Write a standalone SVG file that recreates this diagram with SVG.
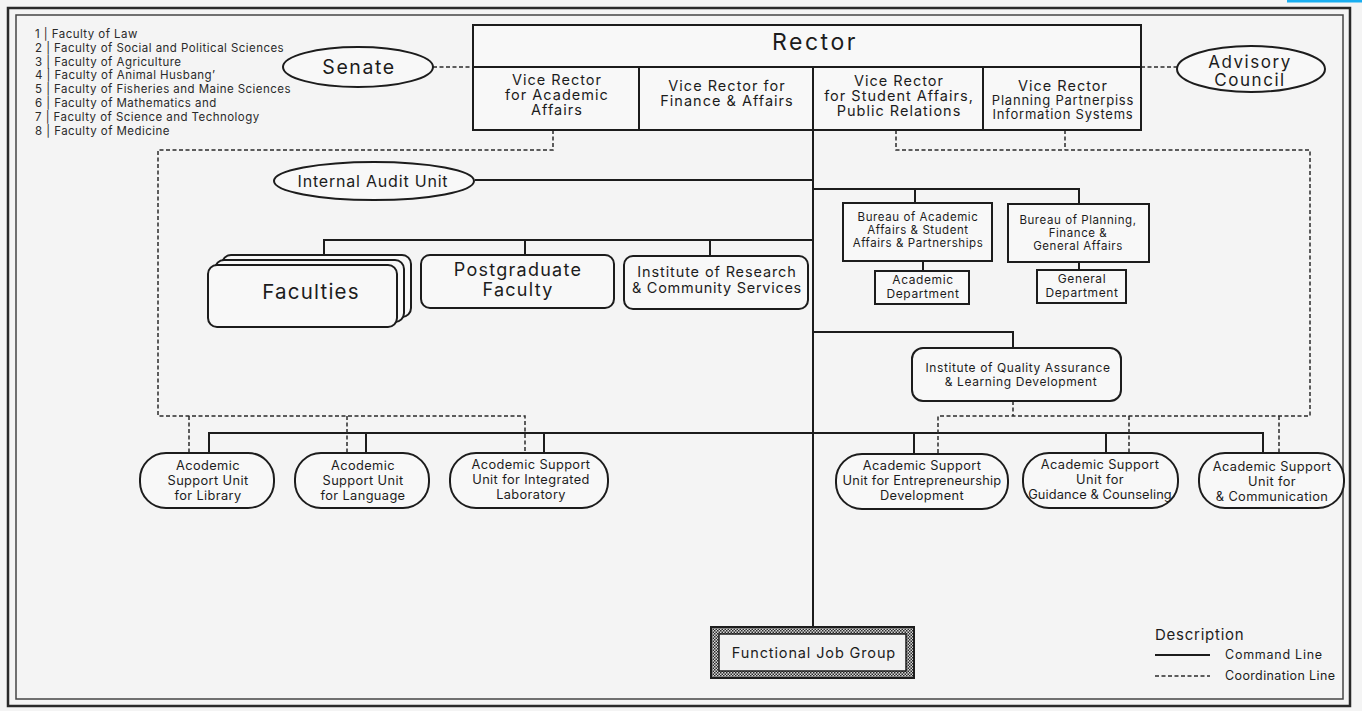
<svg xmlns="http://www.w3.org/2000/svg" width="1362" height="711" viewBox="0 0 1362 711">
<style>
text{font-family:Inter,"Liberation Sans",sans-serif;fill:#1c1c1c;text-anchor:middle;letter-spacing:0.06em}
.leg{text-anchor:start;font-size:11.5px;fill:#2a2a2a;letter-spacing:0.45px}
.st{text-anchor:start}
.box{fill:#f8f8f8;stroke:#1c1c1c;stroke-width:2}
.sol{fill:none;stroke:#1c1c1c;stroke-width:2}
.dash{fill:none;stroke:#2a2a2a;stroke-width:1.5;stroke-dasharray:4 2.5}
.vr{font-size:14.5px;letter-spacing:0.07em}
.vs{font-size:13px;letter-spacing:0.06em}
.bu{font-size:11.5px;letter-spacing:0.05em}
.dp{font-size:12px;letter-spacing:0.05em}
.un{font-size:12.8px;letter-spacing:0.03em}
</style>
<defs>
<pattern id="check" width="3" height="3" patternUnits="userSpaceOnUse">
<rect width="3" height="3" fill="#d8d8d8"/>
<rect width="1.5" height="1.5" fill="#2a2a2a"/>
<rect x="1.5" y="1.5" width="1.5" height="1.5" fill="#2a2a2a"/>
</pattern>
</defs>
<rect width="1362" height="711" fill="#f4f4f4"/>
<rect x="1287" y="0" width="75" height="2.5" fill="#19aef0"/>
<g id="frame">
<rect x="8" y="8" width="1342" height="698" fill="none" stroke="#2a2a2a" stroke-width="2.5"/>
<rect x="16" y="15" width="1327" height="684" fill="none" stroke="#444" stroke-width="1.5"/>
</g>
<g id="faculty-list">
<text class="leg" x="35" y="38">1 |  Faculty of Law</text>
<text class="leg" x="35" y="52">2 |  Faculty of Social and Political Sciences</text>
<text class="leg" x="35" y="66">3 |  Faculty of Agriculture</text>
<text class="leg" x="35" y="79">4 |  Faculty of Animal Husbang’</text>
<text class="leg" x="35" y="93">5 |  Faculty of Fisheries and Maine Sciences</text>
<text class="leg" x="35" y="107">6 |  Faculty of Mathematics and</text>
<text class="leg" x="35" y="121">7 |  Faculty of Science and Technology</text>
<text class="leg" x="35" y="135">8 |  Faculty of Medicine</text>
</g>
<g id="connectors">
<line class="sol" x1="813" y1="130" x2="813" y2="627"/>
<line class="sol" x1="475" y1="180" x2="813" y2="180"/>
<polyline class="sol" points="915,204 915,189 1079,189 1079,204"/>
<line class="sol" x1="813" y1="189" x2="915" y2="189"/>
<line class="sol" x1="923" y1="261" x2="923" y2="271"/>
<line class="sol" x1="1079" y1="262" x2="1079" y2="270"/>
<polyline class="sol" points="324,256 324,240 813,240"/>
<line class="sol" x1="525" y1="240" x2="525" y2="255"/>
<line class="sol" x1="710" y1="240" x2="710" y2="256"/>
<polyline class="sol" points="813,332 1013,332 1013,348"/>
<polyline class="sol" points="209,453 209,433 1263,433 1263,453"/>
<line class="sol" x1="366" y1="433" x2="366" y2="453"/>
<line class="sol" x1="544" y1="433" x2="544" y2="453"/>
<line class="sol" x1="914" y1="433" x2="914" y2="453"/>
<line class="sol" x1="1106" y1="433" x2="1106" y2="453"/>
<line class="dash" x1="433" y1="67" x2="473" y2="67"/>
<line class="dash" x1="1141" y1="67" x2="1177" y2="67"/>
<polyline class="dash" points="553,130 553,150 158,150 158,416 525,416 525,453"/>
<line class="dash" x1="189" y1="416" x2="189" y2="453"/>
<line class="dash" x1="347" y1="416" x2="347" y2="453"/>
<polyline class="dash" points="896,130 896,150 1310,150 1310,416 938,416 938,453"/>
<line class="dash" x1="1065" y1="130" x2="1065" y2="150"/>
<line class="dash" x1="1013" y1="401" x2="1013" y2="416"/>
<line class="dash" x1="1129" y1="416" x2="1129" y2="453"/>
<line class="dash" x1="1279" y1="416" x2="1279" y2="453"/>
</g>
<g id="rector">
<rect class="box" x="473" y="25" width="668" height="105"/>
<line class="sol" x1="473" y1="67" x2="1141" y2="67" stroke-width="1.5"/>
<line class="sol" x1="639" y1="67" x2="639" y2="130"/>
<line class="sol" x1="813" y1="67" x2="813" y2="130"/>
<line class="sol" x1="983" y1="67" x2="983" y2="130"/>
<text x="815" y="50" font-size="23" style="letter-spacing:2.5px">Rector</text>
</g>
<g id="vr-academic">
<text class="vr" x="557" y="85">Vice Rector</text>
<text class="vr" x="557" y="100">for Academic</text>
<text class="vr" x="557" y="115">Affairs</text>
</g>
<g id="vr-finance">
<text class="vr" x="727" y="91">Vice Rector for</text>
<text class="vr" x="727" y="106">Finance &amp; Affairs</text>
</g>
<g id="vr-student">
<text class="vr" x="899" y="86">Vice Rector</text>
<text class="vr" x="899" y="101">for Student Affairs,</text>
<text class="vr" x="899" y="116">Public Relations</text>
</g>
<g id="vr-planning">
<text class="vr" x="1063" y="91">Vice Rector</text>
<text class="vs" x="1063" y="105">Planning Partnerpiss</text>
<text class="vs" x="1063" y="119">Information Systems</text>
</g>
<g id="senate">
<ellipse class="box" cx="358" cy="67" rx="75" ry="20"/>
<text x="359" y="74" font-size="19.5" style="letter-spacing:0.08em">Senate</text>
</g>
<g id="advisory">
<ellipse class="box" cx="1251" cy="69" rx="74" ry="23"/>
<text x="1250" y="68" font-size="17" style="letter-spacing:0.09em">Advisory</text>
<text x="1250" y="85.5" font-size="17" style="letter-spacing:0.09em">Council</text>
</g>
<g id="audit">
<ellipse class="box" cx="374" cy="181" rx="100" ry="19"/>
<text x="373" y="187" font-size="16" style="letter-spacing:0.05em">Internal Audit Unit</text>
</g>
<g id="faculties">
<rect class="box" x="222" y="255" width="189" height="62" rx="9"/>
<rect class="box" x="215" y="260" width="189" height="62" rx="9"/>
<rect class="box" x="208" y="265" width="189" height="62" rx="9"/>
<text x="311" y="299" font-size="20.5">Faculties</text>
</g>
<g id="postgraduate">
<rect class="box" x="421" y="255" width="193" height="53" rx="9"/>
<text x="518" y="276" font-size="18" style="letter-spacing:0.07em">Postgraduate</text>
<text x="518" y="296" font-size="18" style="letter-spacing:0.07em">Faculty</text>
</g>
<g id="research">
<rect class="box" x="624" y="256" width="184" height="53" rx="9"/>
<text x="717" y="277" font-size="14.5" style="letter-spacing:0.06em">Institute of Research</text>
<text x="717" y="293" font-size="14.5" style="letter-spacing:0.05em">&amp; Community Services</text>
</g>
<g id="bureau-academic">
<rect class="box" x="843" y="203" width="149" height="58"/>
<text class="bu" x="918" y="221">Bureau of Academic</text>
<text class="bu" x="918" y="234">Affairs &amp; Student</text>
<text class="bu" x="918" y="247">Affairs &amp; Partnerships</text>
</g>
<g id="bureau-planning">
<rect class="box" x="1008" y="204" width="141" height="58"/>
<text class="bu" x="1078" y="224">Bureau of Planning,</text>
<text class="bu" x="1078" y="237">Finance &amp;</text>
<text class="bu" x="1078" y="250">General Affairs</text>
</g>
<g id="academic-dept">
<rect class="box" x="875" y="271" width="94" height="33"/>
<text class="dp" x="923" y="284">Academic</text>
<text class="dp" x="923" y="297.5">Department</text>
</g>
<g id="general-dept">
<rect class="box" x="1037" y="270" width="89" height="33"/>
<text class="dp" x="1082" y="283">General</text>
<text class="dp" x="1082" y="296.5">Department</text>
</g>
<g id="quality">
<rect class="box" x="912" y="348" width="209" height="53" rx="11"/>
<text class="dp" x="1018" y="372">Institute of Quality Assurance</text>
<text class="dp" x="1021" y="385.5">&amp; Learning Development</text>
</g>
<g id="unit-library">
<rect class="box" x="140" y="453" width="134" height="55" rx="26"/>
<text class="un" x="208" y="470">Acodemic</text>
<text class="un" x="208" y="485">Support Unit</text>
<text class="un" x="208" y="500">for Library</text>
</g>
<g id="unit-language">
<rect class="box" x="295" y="453" width="134" height="55" rx="26"/>
<text class="un" x="363" y="470">Acodemic</text>
<text class="un" x="363" y="485">Support Unit</text>
<text class="un" x="363" y="500">for Language</text>
</g>
<g id="unit-laboratory">
<rect class="box" x="450" y="453" width="158" height="55" rx="26"/>
<text class="un" x="531" y="469">Acodemic Support</text>
<text class="un" x="531" y="484">Unit for Integrated</text>
<text class="un" x="531" y="499">Laboratory</text>
</g>
<g id="unit-entrepreneurship">
<rect class="box" x="836" y="454" width="172" height="55" rx="26"/>
<text class="un" x="922" y="470">Academic Support</text>
<text class="un" x="922" y="485" style="letter-spacing:0.02em">Unit for Entrepreneurship</text>
<text class="un" x="922" y="500">Development</text>
</g>
<g id="unit-guidance">
<rect class="box" x="1023" y="453" width="155" height="55" rx="26"/>
<text class="un" x="1100" y="469">Academic Support</text>
<text class="un" x="1100" y="484">Unit for</text>
<text class="un" x="1100" y="499" style="letter-spacing:0.01em">Guidance &amp; Counseling</text>
</g>
<g id="unit-communication">
<rect class="box" x="1199" y="453" width="145" height="55" rx="26"/>
<text class="un" x="1272" y="471">Academic Support</text>
<text class="un" x="1272" y="486">Unit for</text>
<text class="un" x="1272" y="501">&amp; Communication</text>
</g>
<g id="functional">
<rect x="711" y="627" width="203" height="51" fill="url(#check)" stroke="#1c1c1c" stroke-width="2"/>
<rect x="719" y="634" width="187" height="37" fill="#f2f2f2" stroke="#1c1c1c" stroke-width="1.5"/>
<text x="814" y="657.5" font-size="14.5">Functional Job Group</text>
</g>
<g id="legend">
<text class="st" x="1155" y="640" font-size="15" style="letter-spacing:0.05em">Description</text>
<line class="sol" x1="1155" y1="655" x2="1210" y2="655"/>
<text class="st" x="1225" y="659" font-size="12.5">Command Line</text>
<line class="dash" x1="1155" y1="676" x2="1210" y2="676"/>
<text class="st" x="1225" y="680" font-size="12.5" style="letter-spacing:0.03em">Coordination Line</text>
</g>
</svg>
